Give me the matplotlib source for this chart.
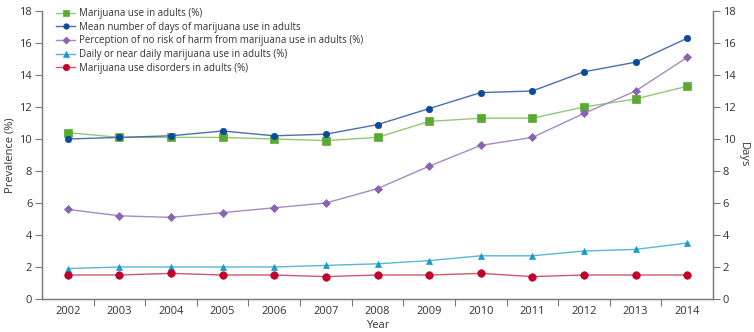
import matplotlib
matplotlib.use("Agg")
import matplotlib.pyplot as plt

years = ["2002", "2003", "2004", "2005", "2006", "2007", "2008", "2009", "2010", "2011", "2012", "2013", "2014"]
use_adults = [10.4, 10.1, 10.1, 10.1, 10.0, 9.9, 10.1, 11.1, 11.3, 11.3, 12.0, 12.5, 13.3]
mean_days = [10.0, 10.1, 10.2, 10.5, 10.2, 10.3, 10.9, 11.9, 12.9, 13.0, 14.2, 14.8, 16.3]
no_risk = [5.6, 5.2, 5.1, 5.4, 5.7, 6.0, 6.9, 8.3, 9.6, 10.1, 11.6, 13.0, 15.1]
daily_use = [1.9, 2.0, 2.0, 2.0, 2.0, 2.1, 2.2, 2.4, 2.7, 2.7, 3.0, 3.1, 3.5]
disorders = [1.5, 1.5, 1.6, 1.5, 1.5, 1.4, 1.5, 1.5, 1.6, 1.4, 1.5, 1.5, 1.5]

labels = [
    "Marijuana use in adults (%)",
    "Mean number of days of marijuana use in adults",
    "Perception of no risk of harm from marijuana use in adults (%)",
    "Daily or near daily marijuana use in adults (%)",
    "Marijuana use disorders in adults (%)",
]

plt.rcParams['font.family'] = ['Open Sans', 'DejaVu Sans']
text_col = "#333333"
spine_col = "#7a7a7a"

fig = plt.figure(figsize=(7.54, 3.32), dpi=100)
ax = fig.add_axes([42/754, 1-299/332, (713-42)/754, (299-11)/332])
ax2 = ax.twinx()

x = list(range(len(years)))
series = [
    (use_adults, "#5aaa32", "#92c77a", "s", 5.2, ax),
    (mean_days, "#0b4a9a", "#4a6fae", "o", 4.6, ax2),
    (no_risk, "#8a64b4", "#a48bc6", "D", 4.2, ax),
    (daily_use, "#1a9cc9", "#5ab5d6", "^", 5.0, ax),
    (disorders, "#c0002a", "#cc5a6c", "o", 5.4, ax),
]
handles = []
for (vals, mc, lc, m, ms, a), lab in zip(series, labels):
    h, = a.plot(x, vals, color=lc, lw=1.0, marker=m, markersize=ms,
                markerfacecolor=mc, markeredgecolor=mc, markeredgewidth=0.5,
                label=lab, zorder=3)
    handles.append(h)

for a in (ax, ax2):
    a.set_ylim(0, 18)
    a.set_xlim(-0.5, len(years) - 0.5)
    a.set_yticks(range(0, 19, 2))
    a.spines['top'].set_visible(False)
    for s in a.spines.values():
        s.set_color(spine_col)
        s.set_linewidth(0.9)
    a.tick_params(axis='y', colors=spine_col, labelcolor=text_col, labelsize=8, length=5, width=0.8, direction='out', pad=2)

ax.set_xticks(x)
ax.set_xticklabels(years)
ax.set_xticks([i - 0.5 for i in range(1, len(years))], minor=True)
ax.tick_params(axis='x', which='major', length=0, labelsize=8, labelcolor=text_col, pad=5)
ax.tick_params(axis='x', which='minor', length=5, width=0.8, color=spine_col, direction='out')

ax.set_ylabel("Prevalence (%)", fontsize=8, color=text_col, labelpad=3)
ax2.set_ylabel("Days", fontsize=8, color=text_col, rotation=270, labelpad=10)
ax.set_xlabel("Year", fontsize=8, color=text_col, labelpad=2)

leg = ax.legend(handles=handles, loc='upper left', bbox_to_anchor=(0.012, 1.03),
                frameon=False, fontsize=7.0, handlelength=2.0, handletextpad=0.35,
                labelspacing=0.27, borderaxespad=0.2, markerscale=0.85)
for t in leg.get_texts():
    t.set_color(text_col)

fig.savefig("out.png", dpi=100)
